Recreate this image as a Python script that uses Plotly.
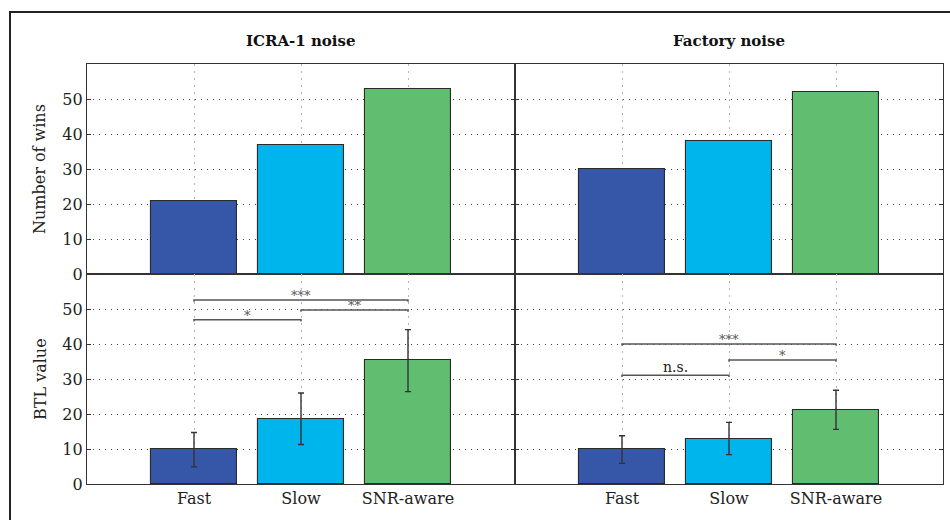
import plotly.graph_objects as go

# ---------------- data ----------------
categories = ["Fast", "Slow", "SNR-aware"]
panel_titles = ["ICRA-1 noise", "Factory noise"]
bar_colors = ["#3657A7", "#00B4EC", "#61BD6F"]

wins_icra = [21, 37, 53]
wins_factory = [30, 38, 52]

btl_icra = [10.0, 18.7, 35.4]
btl_icra_low = [4.9, 11.3, 26.4]
btl_icra_high = [14.7, 26.0, 44.1]

btl_factory = [10.0, 13.0, 21.2]
btl_factory_low = [5.9, 8.4, 15.6]
btl_factory_high = [13.8, 17.6, 26.8]

# significance brackets: (from category index, to category index, height, label)
sig_icra = [(0, 2, 52.6, "***"), (1, 2, 49.7, "**"), (0, 1, 46.9, "*")]
sig_factory = [(0, 2, 40.0, "***"), (1, 2, 35.4, "*"), (0, 1, 31.1, "n.s.")]

y_ticks = [0, 10, 20, 30, 40, 50]
y_labels = ["Number of wins", "BTL value"]

# ---------------- layout helpers ----------------
W, H = 950, 530
REF_H = 520
S = H / REF_H
FONT = "DejaVu Serif"


def py(px):
    """paper y from reference pixel row"""
    return 1 - px * S / H


xl = [(87 / W, 515 / W), (515 / W, 943 / W)]
yl = [(py(274), py(64)), (py(484), py(274))]
xpos = [1, 2, 3]

fig = go.Figure()

def axis_name(i):
    return "" if i == 1 else str(i)

panels = [
    (0, 0, wins_icra, None, None, None),
    (0, 1, wins_factory, None, None, None),
    (1, 0, btl_icra, btl_icra_low, btl_icra_high, sig_icra),
    (1, 1, btl_factory, btl_factory_low, btl_factory_high, sig_factory),
]

layout_axes = {}
for idx, (row, col, vals, low, high, br) in enumerate(panels, start=1):
    xa, ya = "x" + axis_name(idx), "y" + axis_name(idx)
    err = None
    if low is not None:
        err = dict(type="data", symmetric=False,
                   array=[h - v for h, v in zip(high, vals)],
                   arrayminus=[v - l for l, v in zip(low, vals)],
                   color="#333333", thickness=1.4, width=3)
    fig.add_trace(go.Bar(
        x=xpos, y=vals, width=0.8, xaxis=xa, yaxis=ya,
        marker=dict(color=bar_colors, line=dict(color="#2a2a2a", width=1.1)),
        error_y=err, showlegend=False, hoverinfo="skip"))
    if br:
        for a, b, h, lab in br:
            xa0, xb0 = xpos[a], xpos[b]
            fig.add_trace(go.Scatter(
                x=[xa0, xa0, xb0, xb0], y=[h - 0.5, h, h, h - 0.5],
                mode="lines", line=dict(color="#555555", width=1.5),
                xaxis=xa, yaxis=ya, showlegend=False, hoverinfo="skip"))
            is_star = "*" in lab
            fig.add_annotation(
                x=(xa0 + xb0) / 2, y=h, xref=xa, yref=ya, text=lab,
                showarrow=False, yanchor="bottom",
                yshift=-5 if is_star else -2,
                font=dict(family=FONT, size=13 if is_star else 14,
                          color="#555555" if is_star else "#222222"))
    key = "xaxis" + axis_name(idx)
    keyy = "yaxis" + axis_name(idx)
    layout_axes[key] = dict(
        domain=list(xl[col]), anchor=ya, range=[0, 4],
        tickvals=xpos, ticktext=categories if row == 1 else None,
        showticklabels=(row == 1), ticks="",
        showgrid=True, gridcolor="#b5b5b5", griddash="2px,5px", gridwidth=1,
        showline=True, linecolor="#333333", linewidth=1.2, mirror=True,
        zeroline=False, fixedrange=True,
        tickfont=dict(family=FONT, size=16, color="#222222"))
    layout_axes[keyy] = dict(
        domain=list(yl[row]), anchor=xa, range=[0, 60],
        tickvals=y_ticks, showticklabels=(col == 0),
        ticks="inside", ticklen=4, tickcolor="#333333", tickwidth=1.2,
        showgrid=True, gridcolor="#444444", griddash="1px,5px", gridwidth=1,
        showline=True, linecolor="#333333", linewidth=1.2, mirror="ticks",
        zeroline=False, fixedrange=True,
        tickfont=dict(family=FONT, size=16, color="#222222"))

fig.update_layout(**layout_axes)

# panel titles
for col, t in enumerate(panel_titles):
    fig.add_annotation(x=(xl[col][0] + xl[col][1]) / 2, y=py(41),
                       xref="paper", yref="paper", text="<b>" + t + "</b>",
                       showarrow=False, xanchor="center", yanchor="middle",
                       font=dict(family=FONT, size=15, color="#111111"))
# y axis titles
for row, t in enumerate(y_labels):
    fig.add_annotation(x=40 / W, y=(yl[row][0] + yl[row][1]) / 2,
                       xref="paper", yref="paper", text=t, textangle=-90,
                       showarrow=False, xanchor="center", yanchor="middle",
                       font=dict(family=FONT, size=16, color="#222222"))

# outer frame
fig.add_shape(type="rect", xref="paper", yref="paper",
              x0=10 / W, x1=1.05, y0=-0.05, y1=py(12),
              line=dict(color="#222222", width=2), layer="above")

fig.update_layout(
    width=W, height=H, margin=dict(l=0, r=0, t=0, b=0),
    paper_bgcolor="white", plot_bgcolor="white",
    bargap=0, font=dict(family=FONT, color="#222222"))

post = """
var de = document.documentElement, b = document.body;
de.style.margin = '0'; de.style.padding = '0';
b.style.margin = '0'; b.style.padding = '0'; b.style.overflow = 'hidden';
var g = document.querySelector('.plotly-graph-div');
if (g) { g.style.display = 'block'; }
"""
fig.write_html("out.html", config={"displayModeBar": False, "responsive": False},
               post_script=post)
